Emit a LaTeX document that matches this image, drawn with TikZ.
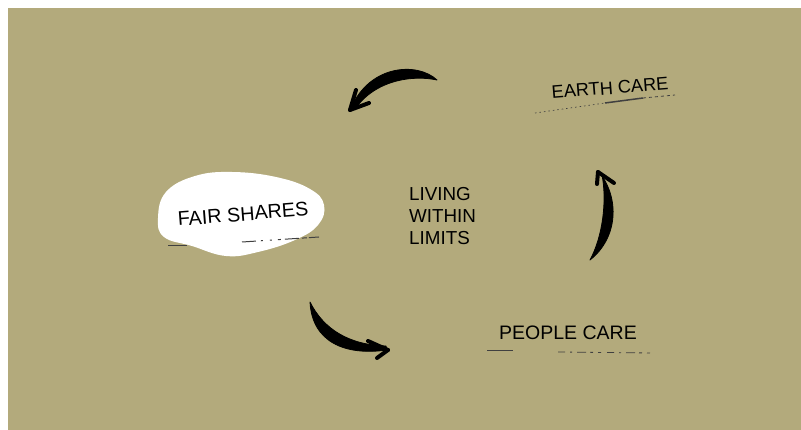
\documentclass[tikz,border=0pt]{standalone}
\usepackage{fontspec}
\setmainfont{Liberation Sans}
\definecolor{olive}{RGB}{179,170,124}
\tikzset{
  lbl/.style={inner sep=0pt, font=\fontsize{19.5}{22}\selectfont},
  brush/.style={fill=black, draw=black, line width=0.8pt, line join=round},
  barb/.style={draw=black, line width=4pt, line cap=round},
  scrap/.style={draw=black!75, line width=1pt},
}
\begin{document}
\begin{tikzpicture}[x=1pt,y=-1pt]
\useasboundingbox (0,0) rectangle (801,430);
\fill[white] (0,0) rectangle (801,430);
\fill[olive] (8,8) rectangle (801,430);

% white blob
\fill[white] plot[smooth cycle, tension=0.7] coordinates {
 (158,218) (166,192) (195,176) (232,172) (276,177) (310,189) (324,205)
 (318,225) (295,240) (258,252) (226,256) (192,246) (164,237)};

% labels
\node[lbl, rotate=4.5, font=\fontsize{19.8}{22}\selectfont] (fair) at (243,214) {FAIR SHARES};
\node[lbl, rotate=4.5, font=\fontsize{18.2}{22}\selectfont] (earth) at (610,88) {EARTH CARE};
\node[lbl] (people) at (568,333) {PEOPLE CARE};
\node[lbl, align=left, anchor=west, font=\fontsize{18.8}{22}\selectfont] (living) at (409,216) {LIVING\\WITHIN\\LIMITS};

% scraps under labels
\draw[scrap, line width=0.9pt] (168,245) -- (187,245);
\draw[scrap, dash pattern=on 14pt off 5pt on 2pt off 7pt on 2pt off 6pt on 3pt off 4pt on 14pt off 3pt on 5pt off 2pt] (242,242) -- (319,237);
\draw[scrap, line width=0.7pt, dash pattern=on 1.5pt off 3pt] (535,113) -- (605,103);
\draw[scrap, line width=1.5pt] (605,103) -- (643,98);
\draw[scrap, line width=0.8pt, dash pattern=on 3pt off 3pt] (643,98) -- (675,95);
\draw[scrap] (487,351) -- (513,351);
\draw[scrap, line width=0.8pt, dash pattern=on 7pt off 5pt on 2pt off 5pt on 9pt off 4pt on 3pt off 5pt on 3pt off 6pt] (558,352) -- (652,353);

% top arrow
\coordinate (t1) at (437,80);
\coordinate (t2) at (351,108);
\fill[brush] (t1) .. controls (418,62) and (370,64) .. (t2)
  -- (355,109) .. controls (376,79) and (414,75) .. (t1) -- cycle;
\draw[barb] (350,110) -- (356,90);
\draw[barb] (350,110) -- (369,103);

% right arrow
\coordinate (r1) at (590,260);
\coordinate (r2) at (599,172);
\fill[brush] (r1) .. controls (618,238) and (620,198) .. (r2)
  -- (602,175) .. controls (607,200) and (603,236) .. (r1) -- cycle;
\draw[barb] (598,172) -- (597,184);
\draw[barb] (598,172) -- (614,183);

% bottom arrow
\coordinate (b1) at (310,302);
\coordinate (b2) at (387,350);
\fill[brush] (b1) .. controls (312,342) and (345,356) .. (b2)
  -- (386,346) .. controls (350,345) and (324,330) .. (b1) -- cycle;
\draw[barb] (388,350) -- (368,341);
\draw[barb] (388,350) -- (377,358);
\end{tikzpicture}
\end{document}
